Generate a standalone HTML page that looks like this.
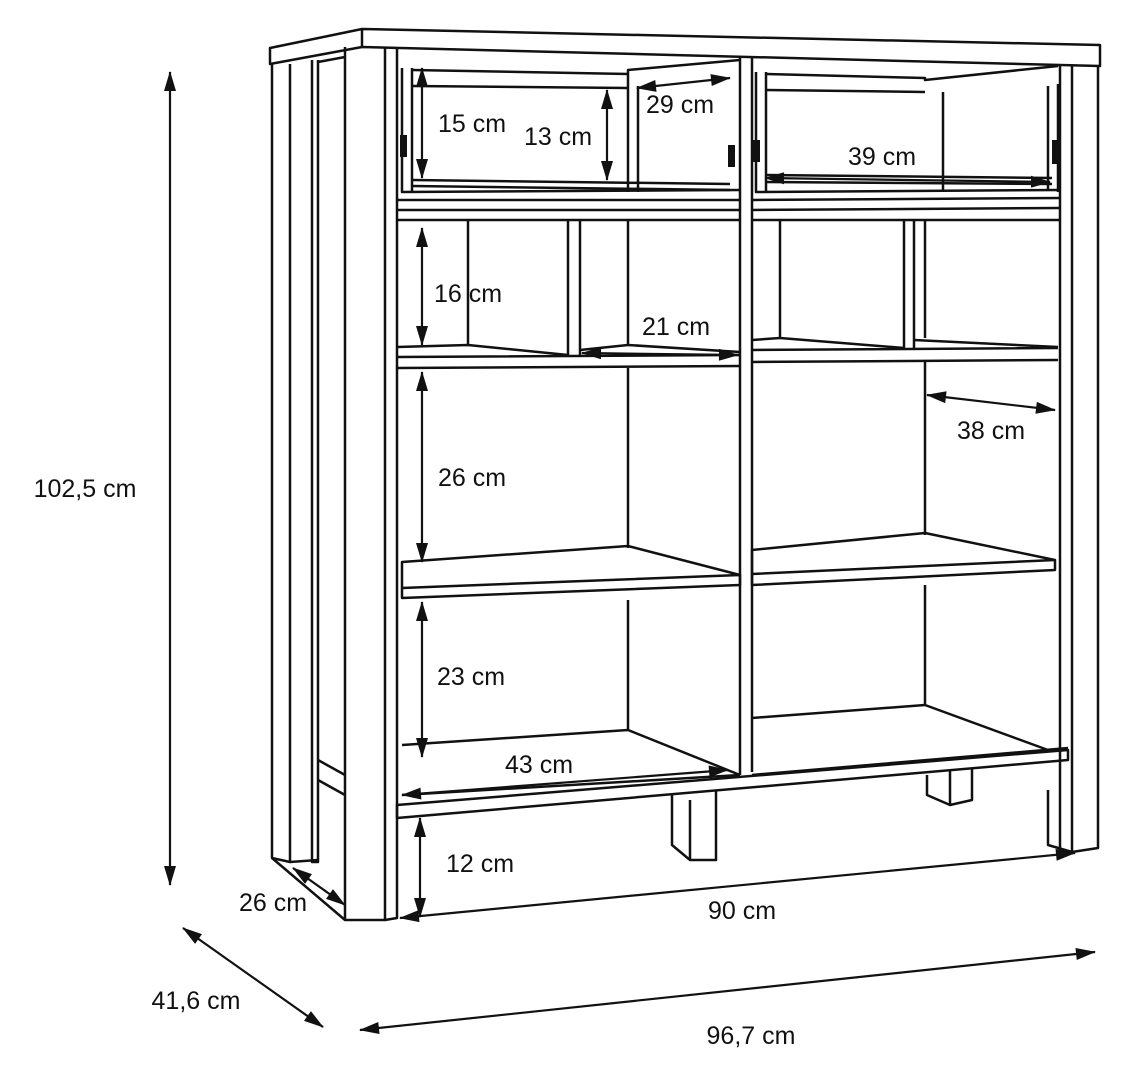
<!DOCTYPE html>
<html><head><meta charset="utf-8"><style>
html,body{margin:0;padding:0;background:#fff;}
svg{display:block;}
text{font-family:"Liberation Sans",sans-serif;font-size:25px;fill:#111;}
</style></head><body>
<svg width="1126" height="1076" viewBox="0 0 1126 1076" xmlns="http://www.w3.org/2000/svg">
<defs>
<marker id="b" viewBox="0 0 20 12" refX="19" refY="6" markerWidth="22" markerHeight="12" orient="auto-start-reverse" markerUnits="userSpaceOnUse"><path d="M0,0 L20,6 L0,12 z" fill="#111"/></marker>
</defs>
<g fill="none" stroke="#111" stroke-width="2.5" stroke-linejoin="round">
<path d="M270,48 L362,29 L1100,45 L1100,66 L362,47 L270,64 Z"/>
<path d="M362,29 L362,47"/>
<path d="M272,64 L272,858 L290,862 L290,64"/>
<path d="M312,60 L312,862 L318,862 L318,60"/>
<path d="M290,862 L318,860"/>
<path d="M318,62 L345,57"/>
<path d="M318,760 L345,775 M318,780 L345,795"/>
<path d="M272,858 L345,920"/>
<path d="M345,47 L345,920 L385,920 L385,47"/>
<path d="M385,920 L397,918 L397,47"/>
<path d="M1060,66 L1060,850 M1072,66 L1072,852 L1098,848 L1098,66"/>
<path d="M1048,790 L1048,845 L1072,852"/>
<path d="M740,58 L740,775 M752,58 L752,772"/>
<path d="M402,68 L402,192 L740,190 M412,68 L412,192"/>
<path d="M412,70 L628,74 L628,70 L740,60"/>
<path d="M412,86 L628,88"/>
<path d="M628,74 L628,192 M638,86 L638,192"/>
<path d="M412,180 L730,184 M412,186 L730,190"/>
<path d="M756,72 L756,192 L1058,190 M766,72 L766,192"/>
<path d="M766,74 L925,78 L925,80 L1058,66 M766,90 L925,92"/>
<path d="M943,92 L943,192"/>
<path d="M1048,86 L1048,190 M1058,84 L1058,192"/>
<path d="M766,175 L1052,178 M766,182 L1052,184"/>
<path d="M397,200 L740,200 M397,210 L740,210 M397,220 L740,220"/>
<path d="M752,200 L1060,198 M752,210 L1060,208 M752,220 L1060,220"/>
<path d="M468,220 L468,345 M568,220 L568,355 M580,220 L580,355 M628,220 L628,345"/>
<path d="M397,347 L468,345 L568,355 M580,350 L628,345 L740,352 M397,357 L740,355 M397,368 L740,366"/>
<path d="M780,220 L780,338 M904,220 L904,348 M914,220 L914,348 M925,220 L925,338"/>
<path d="M752,340 L780,338 L904,348 M914,340 L1058,347 M752,350 L1058,348 M752,362 L1058,360"/>
<path d="M628,368 L628,548 M925,362 L925,535"/>
<path d="M402,562 L628,546 L740,575 L740,585 L402,598 Z M402,588 L740,575"/>
<path d="M752,550 L925,533 L1055,560 L1055,570 L752,585 Z M752,574 L1055,560"/>
<path d="M628,600 L628,730 M925,585 L925,705"/>
<path d="M402,745 L628,730 L740,775 M402,795 L740,775"/>
<path d="M752,718 L925,705 L1048,750 M752,775 L1068,748"/>
<path d="M397,805 L1068,750 L1068,760 L397,818 Z"/>
<path d="M672,795 L672,845 L690,860 L716,860 L716,790 M690,800 L690,860"/>
<path d="M927,775 L927,795 L950,805 L972,800 L972,768 M950,770 L950,805"/>
</g>
<g fill="#111">
<rect x="400" y="135" width="7" height="22"/><rect x="728" y="145" width="7" height="22"/>
<rect x="752" y="140" width="8" height="22"/><rect x="1052" y="140" width="6" height="24"/>
</g>
<g stroke="#111" stroke-width="2.2" fill="none" marker-start="url(#b)" marker-end="url(#b)">
<path d="M170,72 L170,885"/>
<path d="M183,928 L323,1027"/>
<path d="M360,1030 L1095,952"/>
<path d="M400,918 L1075,853"/>
<path d="M293,868 L345,905"/>
<path d="M420,818 L420,917"/>
<path d="M422,68 L422,178"/>
<path d="M607,90 L607,180"/>
<path d="M637,88 L730,78"/>
<path d="M765,178 L1050,182"/>
<path d="M422,228 L422,345"/>
<path d="M582,353 L738,355"/>
<path d="M927,395 L1055,410"/>
<path d="M422,372 L422,562"/>
<path d="M422,602 L422,757"/>
<path d="M402,795 L728,770"/>
</g>
<g>
<text x="85" y="497" text-anchor="middle">102,5 cm</text>
<text x="472" y="132" text-anchor="middle">15 cm</text>
<text x="558" y="145" text-anchor="middle">13 cm</text>
<text x="680" y="113" text-anchor="middle">29 cm</text>
<text x="882" y="165" text-anchor="middle">39 cm</text>
<text x="468" y="302" text-anchor="middle">16 cm</text>
<text x="676" y="335" text-anchor="middle">21 cm</text>
<text x="991" y="439" text-anchor="middle">38 cm</text>
<text x="472" y="486" text-anchor="middle">26 cm</text>
<text x="471" y="685" text-anchor="middle">23 cm</text>
<text x="539" y="773" text-anchor="middle">43 cm</text>
<text x="480" y="872" text-anchor="middle">12 cm</text>
<text x="742" y="919" text-anchor="middle">90 cm</text>
<text x="273" y="911" text-anchor="middle">26 cm</text>
<text x="196" y="1009" text-anchor="middle">41,6 cm</text>
<text x="751" y="1044" text-anchor="middle">96,7 cm</text>
</g>
</svg>
</body></html>
